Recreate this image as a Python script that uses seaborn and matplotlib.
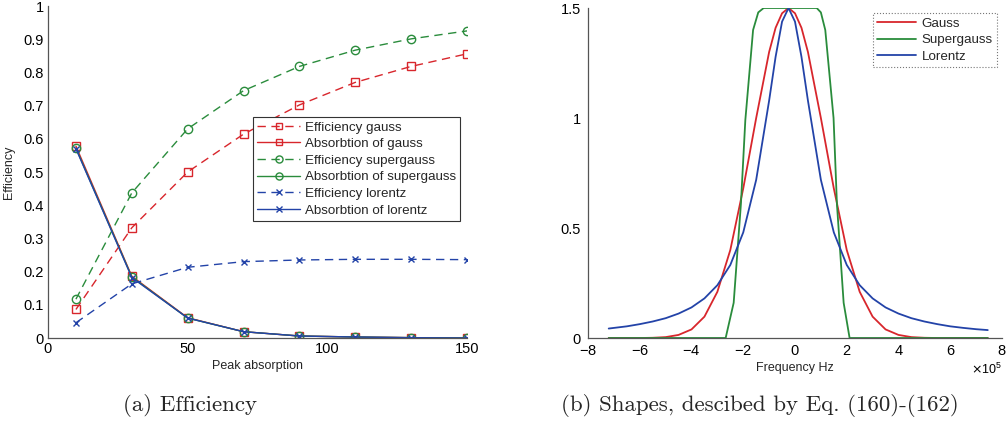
import numpy as np
import matplotlib
matplotlib.use("Agg")
import matplotlib.pyplot as plt
from matplotlib.ticker import ScalarFormatter
import seaborn as sns

# ---------------- data ----------------
peak_absorption = [10, 30, 50, 70, 90, 110, 130, 150]
eff_gauss = [0.086, 0.332, 0.500, 0.614, 0.702, 0.770, 0.818, 0.856]
abs_gauss = [0.578, 0.186, 0.061, 0.019, 0.006, 0.003, 0.001, 0.000]
eff_supergauss = [0.117, 0.437, 0.630, 0.745, 0.818, 0.867, 0.901, 0.925]
abs_supergauss = [0.572, 0.184, 0.060, 0.019, 0.006, 0.003, 0.001, 0.000]
eff_lorentz = [0.046, 0.163, 0.213, 0.230, 0.235, 0.237, 0.237, 0.236]
abs_lorentz = [0.570, 0.182, 0.060, 0.019, 0.006, 0.003, 0.001, 0.000]

# frequency grid in units of 1e5 Hz
freq_grid = [-7.2, -6.5, -6.0, -5.5, -5.0, -4.5, -4.0, -3.5, -3.0, -2.5, -2.0, -1.5,
             -1.0, -0.75, -0.5, -0.25, 0.0, 0.25, 0.5, 1.0, 1.5, 2.0, 2.5, 3.0,
             3.5, 4.0, 4.5, 5.0, 5.5, 6.0, 6.5, 7.0, 7.45]
gauss_shape = [0.0, 0.0, 0.0, 0.001, 0.004, 0.014, 0.039, 0.097, 0.21, 0.40, 0.68, 1.0,
               1.30, 1.41, 1.476, 1.5, 1.476, 1.41, 1.30, 1.0, 0.68, 0.40, 0.21, 0.097,
               0.039, 0.014, 0.004, 0.001, 0.0, 0.0, 0.0, 0.0, 0.0]
lorentz_shape = [0.043, 0.053, 0.063, 0.075, 0.090, 0.111, 0.139, 0.180, 0.240, 0.332, 0.480, 0.719,
                 1.079, 1.278, 1.438, 1.5, 1.438, 1.278, 1.079, 0.719, 0.480, 0.332, 0.240, 0.180,
                 0.139, 0.111, 0.090, 0.075, 0.063, 0.053, 0.046, 0.040, 0.036]
supergauss_freq = [-7.2, -2.68, -2.37, -2.09, -1.92, -1.62, -1.42, -1.21, 0.84, 1.0, 1.17,
                   1.49, 1.62, 1.88, 2.11, 7.45]
supergauss_shape = [0.0, 0.0, 0.16, 0.61, 0.99, 1.40, 1.48, 1.5, 1.5, 1.48, 1.40,
                    1.0, 0.61, 0.16, 0.0, 0.0]

left_xticks = [0, 50, 100, 150]
left_yticks = [0, 0.1, 0.2, 0.3, 0.4, 0.5, 0.6, 0.7, 0.8, 0.9, 1]
left_yticklabels = ["0", "0.1", "0.2", "0.3", "0.4", "0.5", "0.6", "0.7", "0.8", "0.9", "1"]
right_xticks = [-8, -6, -4, -2, 0, 2, 4, 6, 8]
right_yticks = [0, 0.5, 1, 1.5]
right_yticklabels = ["0", "0.5", "1", "1.5"]

# ---------------- style ----------------
sns.set_style("white")
plt.rcParams["font.family"] = ["Liberation Sans", "DejaVu Sans"]
plt.rcParams["axes.edgecolor"] = "#555555"
plt.rcParams["axes.linewidth"] = 0.9
plt.rcParams["axes.unicode_minus"] = False

RED = "#d8262c"
GREEN = "#2a8c3c"
BLUE = "#2343a8"
TICK_FS = 10.5
LAB_FS = 9
LEG_FS = 9.6

fig = plt.figure(figsize=(10.06, 4.23), dpi=100)
ax1 = fig.add_axes([48 / 1006, 85 / 423, 419 / 1006, 332 / 423])
ax2 = fig.add_axes([588 / 1006, 85 / 423, 414 / 1006, 330 / 423])

dash = (6, 4)
common = dict(lw=1.0, markerfacecolor="none", markeredgewidth=1.0)

series = [
    (eff_gauss, "Efficiency gauss", RED, "s", 5.5, True),
    (abs_gauss, "Absorbtion of gauss", RED, "s", 5.5, False),
    (eff_supergauss, "Efficiency supergauss", GREEN, "o", 6.0, True),
    (abs_supergauss, "Absorbtion of supergauss", GREEN, "o", 6.0, False),
    (eff_lorentz, "Efficiency lorentz", BLUE, "x", 5.0, True),
    (abs_lorentz, "Absorbtion of lorentz", BLUE, "x", 5.0, False),
]
for vals, label, col, mk, ms, dashed in series:
    kw = dict(common)
    if dashed:
        kw["dashes"] = dash
    sns.lineplot(x=peak_absorption, y=vals, ax=ax1, color=col, marker=mk, markersize=ms,
                 markeredgecolor=col, label=label, **kw)

ax1.set_xlim(0, 150)
ax1.set_ylim(0, 1)
ax1.set_xticks(left_xticks)
ax1.set_xticklabels([str(t) for t in left_xticks], fontsize=TICK_FS)
ax1.set_yticks(left_yticks)
ax1.set_yticklabels(left_yticklabels, fontsize=TICK_FS)
ax1.set_xlabel("Peak absorption", fontsize=LAB_FS, labelpad=3)
ax1.set_ylabel("Efficiency", fontsize=LAB_FS, labelpad=6)
for s in ["top", "right"]:
    ax1.spines[s].set_visible(False)
ax1.tick_params(direction="in", length=3, width=0.8, colors="#555555",
                labelcolor="black", pad=3)
leg1 = ax1.legend(loc="upper left", bbox_to_anchor=(0.49, 0.665), fontsize=LEG_FS,
                  frameon=True, fancybox=False, edgecolor="#333333", framealpha=1,
                  handlelength=3.2, handletextpad=0.4, borderpad=0.3, labelspacing=0.32,
                  borderaxespad=0, markerscale=0.85)
leg1.get_frame().set_linewidth(0.8)

# right panel
freq_hz = np.array(freq_grid) * 1e5
sg_hz = np.array(supergauss_freq) * 1e5
sns.lineplot(x=freq_hz, y=gauss_shape, ax=ax2, color=RED, lw=1.3, label="Gauss")
sns.lineplot(x=sg_hz, y=supergauss_shape, ax=ax2, color=GREEN, lw=1.3, label="Supergauss")
sns.lineplot(x=freq_hz, y=lorentz_shape, ax=ax2, color=BLUE, lw=1.3, label="Lorentz")
ax2.set_xlim(-8e5, 8e5)
ax2.set_ylim(0, 1.5)
ax2.set_xticks(np.array(right_xticks) * 1e5)
fmt = ScalarFormatter(useMathText=True)
fmt.set_powerlimits((0, 0))
ax2.xaxis.set_major_formatter(fmt)
ax2.set_yticks(right_yticks)
ax2.set_yticklabels(right_yticklabels, fontsize=TICK_FS)
ax2.tick_params(axis="x", labelsize=TICK_FS)
ax2.xaxis.get_offset_text().set_fontsize(9)
ax2.set_xlabel("Frequency Hz", fontsize=LAB_FS, labelpad=3)
for s in ["top", "right"]:
    ax2.spines[s].set_visible(False)
ax2.tick_params(direction="in", length=3, width=0.8, colors="#555555",
                labelcolor="black")
ax2.tick_params(axis="y", pad=5)
ax2.tick_params(axis="x", pad=4)
leg2 = ax2.legend(loc="upper left", bbox_to_anchor=(0.688, 0.985), fontsize=LEG_FS,
                  frameon=True, fancybox=False, edgecolor="#777777", framealpha=1,
                  handlelength=2.9, handletextpad=0.4, borderpad=0.35, labelspacing=0.3,
                  borderaxespad=0)
leg2.get_frame().set_linewidth(0.8)
leg2.get_frame().set_linestyle(":")

# captions
cap_font = ["cmr10", "Liberation Serif", "DejaVu Serif"]
fig.text(190 / 1006, 1 - 405 / 423, "(a) Efficiency", ha="center", va="center",
         fontsize=16.5, family=cap_font)
fig.text(760 / 1006, 1 - 405 / 423, "(b) Shapes, descibed by Eq. (160)-(162)", ha="center",
         va="center", fontsize=16.5, family=cap_font)

fig.savefig("out.png", dpi=100)
